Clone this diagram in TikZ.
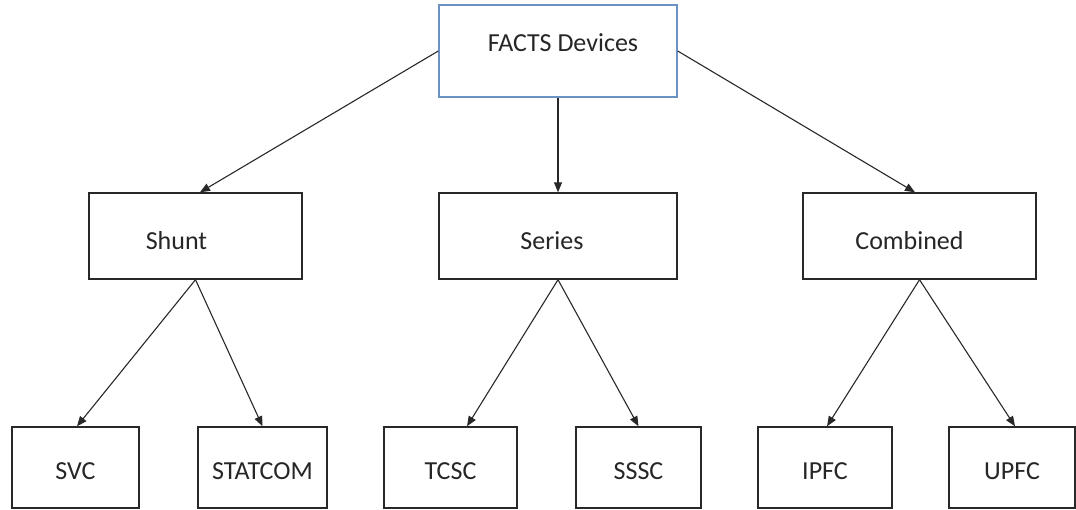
\documentclass[tikz,border=0pt]{standalone}
\usepackage{fontspec}
\setmainfont{Carlito}
\usetikzlibrary{arrows.meta}

% 颜色与样式
\definecolor{boxblue}{RGB}{108,146,196}
\definecolor{linegray}{RGB}{40,40,40}
\definecolor{txtgray}{RGB}{38,38,38}
\tikzset{
	box/.style={draw=linegray, line width=1.4pt, rectangle, inner sep=0pt, text=txtgray, font=\fontsize{26}{30}\selectfont},
	arr/.style={draw=linegray, line width=1.1pt, -{Triangle[length=10pt,width=8pt]}}
}

\begin{document}
\begin{tikzpicture}[x=1pt,y=-1pt]
	
	% 画布大小
	\useasboundingbox (0,0) rectangle (1076,510);
	
	% 顶层方框
	\node[box, draw=boxblue, minimum width=238, minimum height=92, label={[text=txtgray, font=\fontsize{26}{30}\selectfont, xshift=5pt, yshift=8pt]center:FACTS Devices}] (facts) at (558,51) {}; % FACTS 总框
	
	% 第二层:三类
	\node[box, minimum width=213, minimum height=86, label={[text=txtgray, font=\fontsize{26}{30}\selectfont, xshift=-19pt, yshift=-5pt]center:Shunt}] (shunt) at (195.5,236) {}; % 并联
	\node[box, minimum width=238, minimum height=86, label={[text=txtgray, font=\fontsize{26}{30}\selectfont, xshift=-6pt, yshift=-5pt]center:Series}] (series) at (558,236) {}; % 串联
	\node[box, minimum width=233, minimum height=86, label={[text=txtgray, font=\fontsize{26}{30}\selectfont, xshift=-10pt, yshift=-5pt]center:Combined}] (combined) at (919.5,236) {}; % 组合
	
	% 第三层:具体装置
	\node[box, minimum width=127, minimum height=81, label={[text=txtgray, font=\fontsize{26}{30}\selectfont, yshift=-4pt]center:SVC}] (svc) at (75.5,467.5) {};
	\node[box, minimum width=129, minimum height=81, label={[text=txtgray, font=\fontsize{26}{30}\selectfont, yshift=-4pt]center:STATCOM}] (statcom) at (262.5,467.5) {};
	\node[box, minimum width=133, minimum height=81, label={[text=txtgray, font=\fontsize{26}{30}\selectfont, yshift=-4pt]center:TCSC}] (tcsc) at (450.5,467.5) {};
	\node[box, minimum width=125, minimum height=81, label={[text=txtgray, font=\fontsize{26}{30}\selectfont, yshift=-4pt]center:SSSC}] (sssc) at (638.5,467.5) {};
	\node[box, minimum width=134, minimum height=81, label={[text=txtgray, font=\fontsize{26}{30}\selectfont, yshift=-4pt]center:IPFC}] (ipfc) at (825,467.5) {};
	\node[box, minimum width=126, minimum height=81, label={[text=txtgray, font=\fontsize{26}{30}\selectfont, yshift=-4pt]center:UPFC}] (upfc) at (1012,467.5) {};
	
	% 顶层到第二层的箭头
	\draw[arr] (facts.west) -- ([xshift=4.5pt]shunt.north);
	\draw[arr] (facts.south) -- (series.north);
	\draw[arr] (facts.east) -- ([xshift=-4.5pt]combined.north);
	
	% 第二层到第三层的箭头
	\draw[arr] (shunt.south) -- ([xshift=1.5pt]svc.north);
	\draw[arr] (shunt.south) -- (statcom.north);
	\draw[arr] (series.south) -- ([xshift=16.5pt]tcsc.north);
	\draw[arr] (series.south) -- (sssc.north);
	\draw[arr] (combined.south) -- ([xshift=2pt]ipfc.north);
	\draw[arr] (combined.south) -- ([xshift=3pt]upfc.north);
	
\end{tikzpicture}
\end{document}
